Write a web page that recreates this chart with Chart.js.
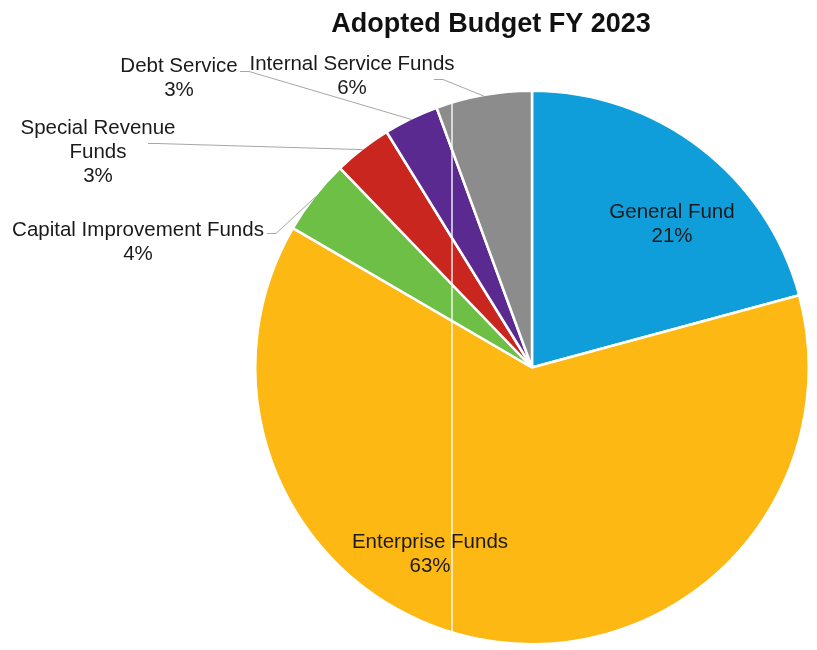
<!DOCTYPE html>
<html>
<head>
<meta charset="utf-8">
<title>Adopted Budget FY 2023</title>
<script src="https://cdn.jsdelivr.net/npm/chart.js@4.4.1/dist/chart.umd.min.js"></script>
<style>
  body { margin: 0; background: #fff; }
  #wrap { width: 817px; height: 650px; }
</style>
</head>
<body>
<div id="wrap"><canvas id="budgetChart" width="817" height="650"></canvas></div>
<script>
// Budget share by fund type (percent of total adopted budget)
const funds = ['General Fund', 'Enterprise Funds', 'Capital Improvement Funds',
               'Special Revenue Funds', 'Debt Service', 'Internal Service Funds'];
const shares = [20.8, 62.6, 4.4, 3.4, 3.2, 5.6];
const fundColors = ['#0f9ed9', '#fdb813', '#6dbf45', '#c8261e', '#5a2a91', '#8c8c8c'];

// how each label is broken into lines
const labelLines = [
    ['General Fund'],
    ['Enterprise Funds'],
    ['Capital Improvement Funds'],
    ['Special Revenue', 'Funds'],
    ['Debt Service'],
    ['Internal Service Funds']
];

// label placement, offsets from the pie centre; leader = start of the leader line
const labelSpots = [
    { dx: 140, dy: -150 },
    { dx: -102, dy: 180 },
    { dx: -394, dy: -132, leader: [-265, -134] },
    { dx: -434, dy: -234, leader: [-384, -224] },
    { dx: -353, dy: -296, leader: [-292, -296] },
    { dx: -180, dy: -298, leader: [-98, -288] }
];

const FONT = '"Liberation Sans", Arial, sans-serif';

const labelPlugin = {
    id: 'fundLabels',
    afterDatasetsDraw(chart) {
        const ctx = chart.ctx;
        const arcs = chart.getDatasetMeta(0).data;
        const values = chart.data.datasets[0].data;
        const total = values.reduce((a, b) => a + b, 0);
        const cx = arcs[0].x, cy = arcs[0].y, r = arcs[0].outerRadius;

        // thin white seam running down the pie
        ctx.save();
        ctx.beginPath();
        ctx.arc(cx, cy, r, 0, Math.PI * 2);
        ctx.clip();
        ctx.strokeStyle = 'rgba(255,255,255,0.9)';
        ctx.lineWidth = 1.5;
        ctx.beginPath();
        ctx.moveTo(cx - 80, cy - r);
        ctx.lineTo(cx - 80, cy + r);
        ctx.stroke();
        ctx.restore();

        ctx.save();
        ctx.font = '20.5px ' + FONT;
        ctx.textAlign = 'center';
        ctx.textBaseline = 'alphabetic';
        arcs.forEach((arc, i) => {
            const spot = labelSpots[i];
            const lines = labelLines[i].concat(Math.round(values[i] / total * 100) + '%');
            const x = cx + spot.dx;
            lines.forEach((t, j) => {
                ctx.fillStyle = '#1a1a1a';
                ctx.fillText(t, x, cy + spot.dy + j * 24);
            });
            if (spot.leader) {
                const mid = (arc.startAngle + arc.endAngle) / 2;
                const ex = cx + Math.cos(mid) * (arc.outerRadius - 1);
                const ey = cy + Math.sin(mid) * (arc.outerRadius - 1);
                const sx = cx + spot.leader[0], sy = cy + spot.leader[1];
                ctx.strokeStyle = '#a6a6a6';
                ctx.lineWidth = 1;
                ctx.beginPath();
                ctx.moveTo(sx, sy);
                ctx.lineTo(sx + 9, sy);
                ctx.lineTo(ex, ey);
                ctx.stroke();
            }
        });
        ctx.restore();

        // chart title
        ctx.save();
        ctx.font = 'bold 27px ' + FONT;
        ctx.fillStyle = '#111';
        ctx.textAlign = 'center';
        ctx.fillText('Adopted Budget FY 2023', 491, 32);
        ctx.restore();
    }
};

const ctx = document.getElementById('budgetChart').getContext('2d');
const budgetChart = new Chart(ctx, {
    type: 'pie',
    data: {
        labels: funds,
        datasets: [{
            data: shares,
            backgroundColor: fundColors,
            borderColor: '#ffffff',
            borderWidth: 2.5
        }]
    },
    options: {
        responsive: false,
        animation: false,
        layout: { padding: { left: 254, right: 7, top: 88, bottom: 3 } },
        plugins: {
            legend: { display: false },
            tooltip: { enabled: false },
            title: { display: false }
        }
    },
    plugins: [labelPlugin]
});
</script>
</body>
</html>
